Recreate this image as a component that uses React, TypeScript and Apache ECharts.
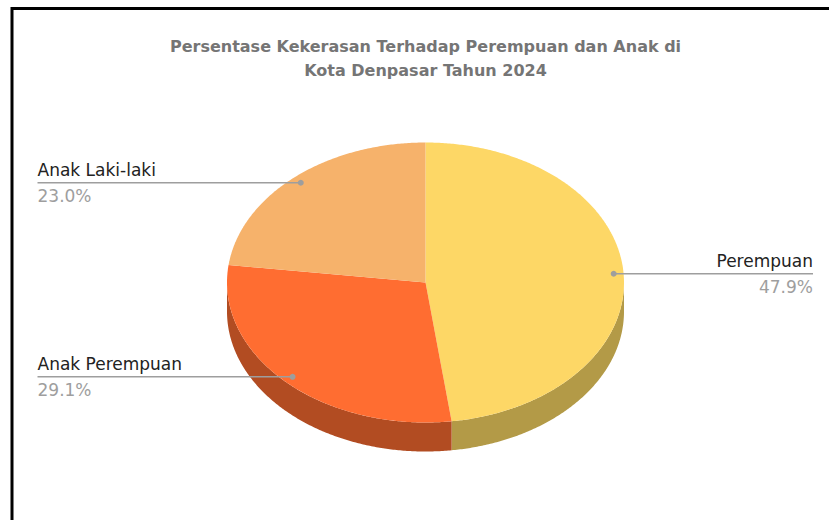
import React, { useEffect, useRef } from 'react';
import * as echarts from 'echarts';

const categories = ['Perempuan', 'Anak Perempuan', 'Anak Laki-laki'];
const values = [47.9, 29.1, 23.0];
const topColors = ['#FDD766', '#FF6D31', '#F6B26B'];
const sideColors = ['#B39A47', '#B24C22', '#AC7D4B'];
const titleLines = ['Persentase Kekerasan Terhadap Perempuan dan Anak di', 'Kota Denpasar Tahun 2024'];

const CX = 425.5;
const CY = 282.5;
const RX = 198.5;
const RY = 140;
const DEPTH = 29;

export default function App() {
  const ref = useRef<HTMLDivElement>(null);
  useEffect(() => {
    document.body.style.margin = '0';
    const chart = echarts.init(ref.current!, null, { renderer: 'svg' });
    const total = values.reduce((a, b) => a + b, 0);
    let acc = 0;
    const data = values.map((v, i) => {
      const s = acc / total;
      acc += v;
      const e = acc / total;
      return { name: categories[i], value: [s, e, v] };
    });
    const pt = (a: number, r = 1, dy = 0) => [CX + RX * r * Math.sin(a), CY - RY * r * Math.cos(a) + dy];
    const arc = (a0: number, a1: number, dy: number) => {
      const n = Math.max(2, Math.ceil(Math.abs(a1 - a0) / (Math.PI / 360)));
      const out: number[][] = [];
      for (let k = 0; k <= n; k++) out.push(pt(a0 + ((a1 - a0) * k) / n, 1, dy));
      return out;
    };
    const font = '"DejaVu Sans", Verdana, sans-serif';
    chart.setOption({
      animation: false,
      backgroundColor: '#ffffff',
      graphic: [
        {
          type: 'rect',
          shape: { x: 12, y: 8.5, width: 900, height: 600 },
          style: { fill: 'none', stroke: '#000000', lineWidth: 3 },
          silent: true,
        },
        {
          type: 'text',
          x: 425.5,
          y: 34,
          style: {
            text: titleLines.join('\n'),
            align: 'center',
            verticalAlign: 'top',
            fill: '#757575',
            font: 'bold 16px ' + font,
            lineHeight: 24,
          },
        },
      ],
      series: [
        {
          type: 'custom',
          coordinateSystem: 'none',
          data,
          renderItem: (params: any, api: any) => {
            const i = params.dataIndex;
            const s = api.value(0) as number;
            const e = api.value(1) as number;
            const v = api.value(2) as number;
            const a0 = s * 2 * Math.PI;
            const a1 = e * 2 * Math.PI;
            const children: any[] = [];
            const f0 = Math.max(a0, Math.PI / 2);
            const f1 = Math.min(a1, (3 * Math.PI) / 2);
            if (f1 > f0) {
              const side = arc(f0, f1, 0).concat(arc(f1, f0, DEPTH));
              children.push({ type: 'polygon', shape: { points: side }, style: { fill: sideColors[i] }, z2: 1 });
            }
            const top = [[CX, CY]].concat(arc(a0, a1, 0));
            children.push({ type: 'polygon', shape: { points: top }, style: { fill: topColors[i] }, z2: 2 });
            const mid = (a0 + a1) / 2;
            const [dx, dy] = pt(mid, 0.95);
            const right = Math.sin(mid) > 0;
            const endX = right ? 813 : 37.5;
            children.push({
              type: 'line',
              shape: { x1: dx, y1: dy, x2: endX, y2: dy },
              style: { stroke: '#9E9E9E', lineWidth: 1.5 },
              z2: 3,
            });
            children.push({ type: 'circle', shape: { cx: dx, cy: dy, r: 3 }, style: { fill: '#9E9E9E' }, z2: 4 });
            children.push({
              type: 'text',
              style: {
                x: endX,
                y: dy - 12.5,
                text: categories[i],
                align: right ? 'right' : 'left',
                verticalAlign: 'middle',
                fill: '#222222',
                font: '17px ' + font,
              },
              z2: 5,
            });
            children.push({
              type: 'text',
              style: {
                x: endX,
                y: dy + 13.5,
                text: ((v / total) * 100).toFixed(1) + '%',
                align: right ? 'right' : 'left',
                verticalAlign: 'middle',
                fill: '#9E9E9E',
                font: '17px ' + font,
              },
              z2: 5,
            });
            return { type: 'group', children };
          },
        },
      ],
    });
    return () => chart.dispose();
  }, []);
  return <div ref={ref} style={{ width: 829, height: 520 }} />;
}
